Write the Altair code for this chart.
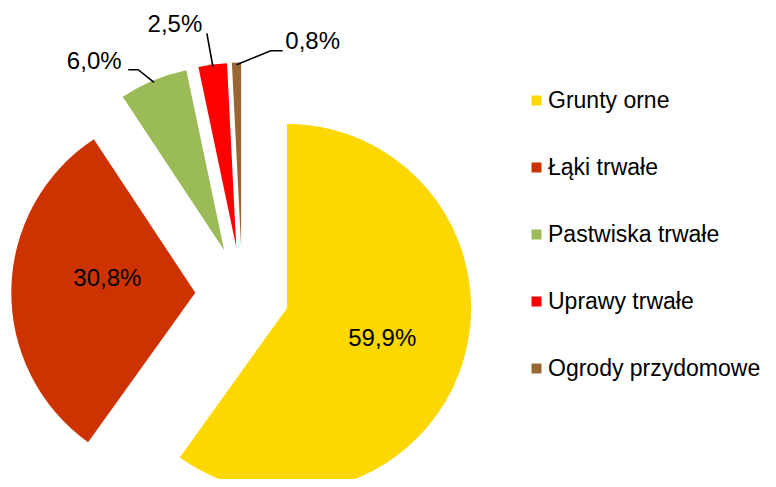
import altair as alt
import numpy as np
import pandas as pd

# ---- data ----
categories = ["Grunty orne", "Łąki trwałe", "Pastwiska trwałe", "Uprawy trwałe", "Ogrody przydomowe"]
shares = [59.9, 30.8, 6.0, 2.5, 0.8]
labels = ["59,9%", "30,8%", "6,0%", "2,5%", "0,8%"]
colors = ["#FCD800", "#CC3300", "#9BBB59", "#FF0000", "#996633"]

# ---- layout (pixels / degrees) ----
W, H = 760, 471
CX, CY = 234.3, 285.6      # pie centre before explosion
R = 184                    # pie radius
EXPLODE = 47               # explosion distance of every slice
label_r = [100, 89, 229, 230, 217]        # label distance from slice vertex
label_dtheta = [0, 7.8, -11.9, -8.1, 20.7]  # best-fit nudges of labels
# leader lines for outside labels: (elbow dx, end dx, dy) relative to label centre
leader = {2: (44, 34, 8), 3: (32, 32, 8), 4: (-42, -30, 9)}
LEADER_R = 182

vals = np.array(shares, dtype=float)
cum = np.cumsum(vals) / vals.sum()
t1 = 2 * np.pi * cum
t0 = np.concatenate([[0.0], t1[:-1]])
mid = (t0 + t1) / 2
cx = CX + EXPLODE * np.sin(mid)
cy = CY - EXPLODE * np.cos(mid)

arc_df = pd.DataFrame({"category": categories, "t0": t0, "t1": t1, "cx": cx, "cy": cy})

la = mid + np.radians(label_dtheta)
lx = cx + np.array(label_r) * np.sin(la)
ly = cy - np.array(label_r) * np.cos(la)
lab_df = pd.DataFrame({"category": categories, "label": labels, "lx": lx, "ly": ly})

rows = []
for i, (ex, ax, dy) in leader.items():
    a = (cx[i] + LEADER_R * np.sin(mid[i]), cy[i] - LEADER_R * np.cos(mid[i]))
    b = (lx[i] + ex, ly[i] + dy)
    c = (lx[i] + ax, ly[i] + dy)
    for k, p in enumerate([a, b, c]):
        rows.append({"category": categories[i], "idx": k, "x": p[0], "y": p[1]})
lead_df = pd.DataFrame(rows)

FONT = "Liberation Sans"

arcs = alt.Chart(arc_df).mark_arc(radius=R).encode(
    x=alt.X("cx:Q", scale=None, axis=None),
    y=alt.Y("cy:Q", scale=None, axis=None),
    theta=alt.Theta("t0:Q", scale=None, stack=None),
    theta2=alt.Theta2("t1:Q"),
    color=alt.Color(
        "category:N",
        scale=alt.Scale(domain=categories, range=colors),
        sort=categories,
        legend=alt.Legend(
            title=None, orient="none", legendX=517, legendY=81,
            symbolType="square", symbolSize=100, symbolStrokeWidth=0,
            labelFont=FONT, labelFontSize=23, labelColor="black",
            labelOffset=0, rowPadding=43, padding=0, labelLimit=400,
        ),
    ),
)

leaders = alt.Chart(lead_df).mark_line(color="black", strokeWidth=1.6).encode(
    x=alt.X("x:Q", scale=None, axis=None),
    y=alt.Y("y:Q", scale=None, axis=None),
    detail="category:N",
    order="idx:Q",
)

texts = alt.Chart(lab_df).mark_text(
    font=FONT, fontSize=24, color="black", align="center", baseline="middle"
).encode(
    x=alt.X("lx:Q", scale=None, axis=None),
    y=alt.Y("ly:Q", scale=None, axis=None),
    text="label:N",
)

chart = alt.layer(arcs, leaders, texts).properties(
    width=W, height=H, padding=0, autosize="none"
).configure_view(stroke=None)

chart.save("out.html", embed_options={"renderer": "svg", "actions": False})
